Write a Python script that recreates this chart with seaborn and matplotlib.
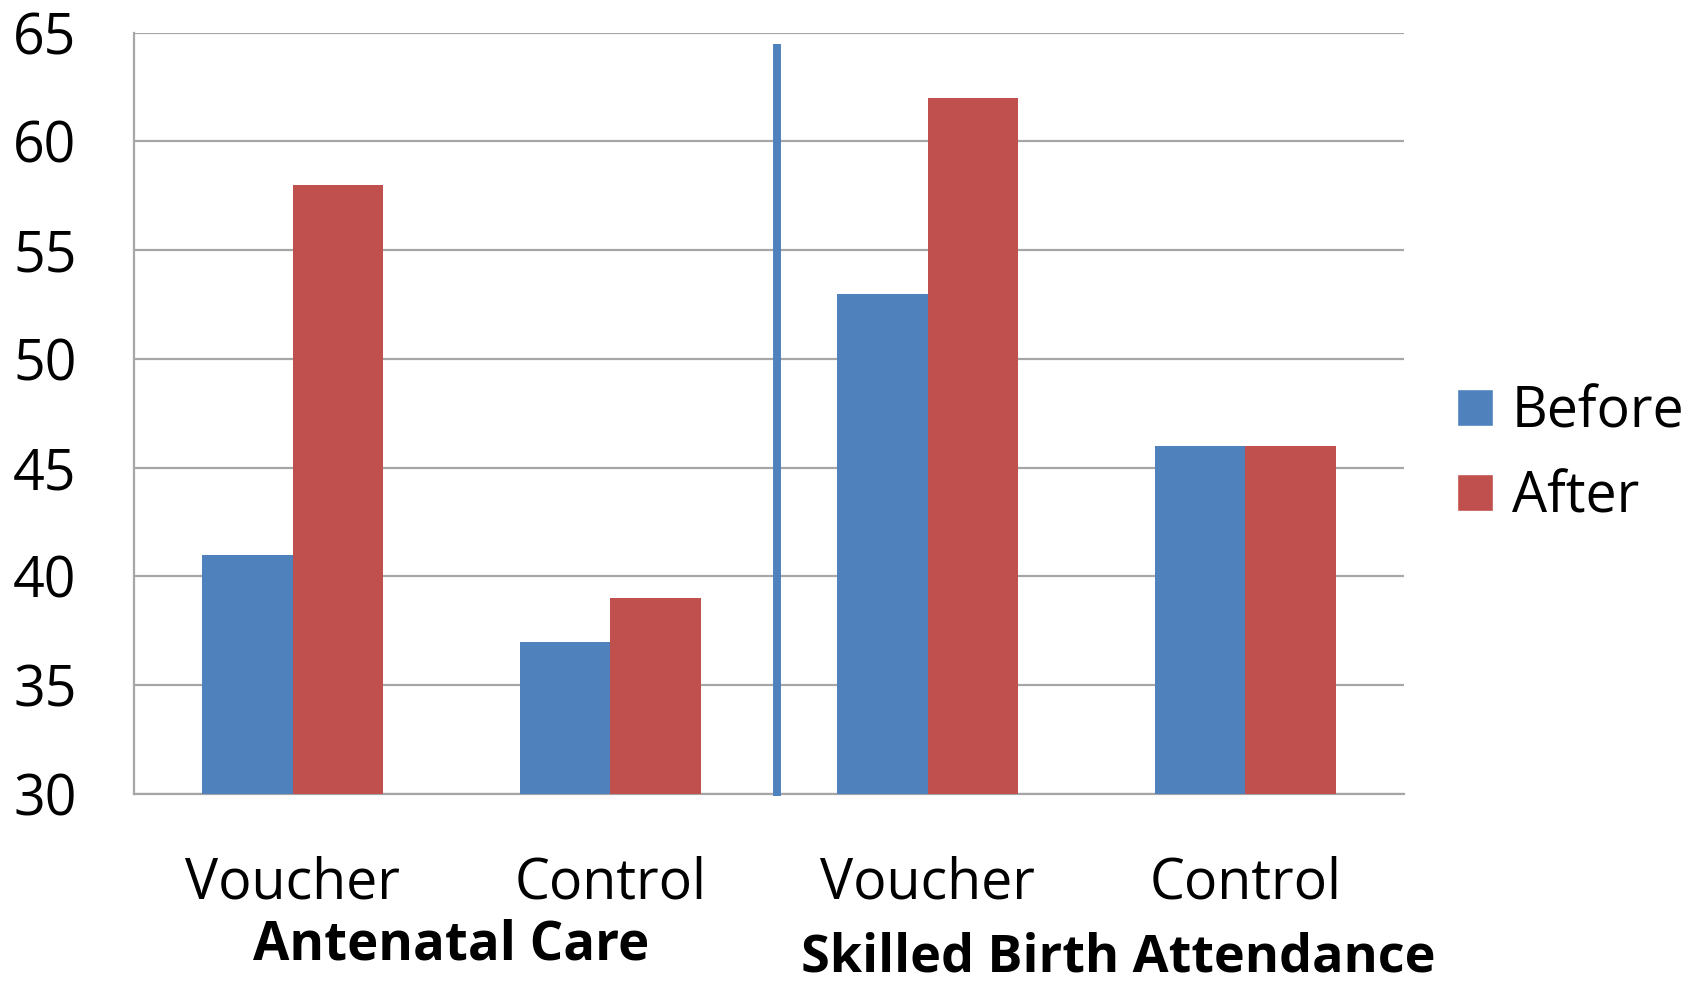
import matplotlib
matplotlib.use("Agg")
import matplotlib.pyplot as plt
import matplotlib.transforms as mtransforms
from matplotlib.patches import Patch
import numpy as np
import pandas as pd
import seaborn as sns

# --- data ---
categories = ["ANC Voucher", "ANC Control", "SBA Voucher", "SBA Control"]
tick_labels = ["Voucher", "Control", "Voucher", "Control"]
group_labels = ["Antenatal Care", "Skilled Birth Attendance"]
before = [41, 37, 53, 46]
after = [58, 39, 62, 46]
series = ["Before", "After"]

df = pd.DataFrame({
    "category": categories * 2,
    "value": before + after,
    "period": ["Before"] * 4 + ["After"] * 4,
})

blue = "#4F81BD"
red = "#C0504D"
grid_col = "#A6A6A6"

sns.set_style("white")
plt.rcParams["font.family"] = ["Open Sans", "DejaVu Sans"]
plt.rcParams["text.color"] = "black"
plt.rcParams["xtick.labelcolor"] = "black"
plt.rcParams["ytick.labelcolor"] = "black"

fig = plt.figure(figsize=(16.98, 9.82), dpi=100)
ax = fig.add_axes([134 / 1698, 1 - 794 / 982, (1404 - 134) / 1698, (794 - 32.5) / 982])

sns.barplot(data=df, x="category", y="value", hue="period", order=categories,
            hue_order=series, palette=[blue, red], width=0.57, saturation=1,
            edgecolor="none", linewidth=0, ax=ax, legend=False, zorder=3)

ax.set_ylim(30, 65)
ax.set_xlim(-0.5, 3.5)
ax.set_yticks(np.arange(30, 66, 5))
ax.yaxis.grid(True, color=grid_col, linewidth=1.6, zorder=0)
ax.set_axisbelow(True)
ax.set_xlabel("")
ax.set_ylabel("")

for side in ["top", "right"]:
    ax.spines[side].set_visible(False)
for side in ["left", "bottom"]:
    ax.spines[side].set_color(grid_col)
    ax.spines[side].set_linewidth(1.6)

ax.set_xticks(range(len(categories)))
ax.set_xticklabels(tick_labels)
ax.set_xticks(np.arange(-0.5, 4, 1), minor=True)
ax.tick_params(axis="x", which="major", length=0, pad=44, labelsize=40, labelcolor="black")
ax.tick_params(axis="x", which="minor", length=13, width=1.6, color=grid_col)
ax.tick_params(axis="y", length=14.4, width=1.6, color=grid_col, pad=27,
               labelsize=40, labelcolor="black")

# vertical separator between the two groups
ax.plot([1.524, 1.524], [29.9, 64.47], color=blue, linewidth=5.7,
        solid_capstyle="butt", clip_on=False, zorder=4)

# group labels under the category labels
trans = mtransforms.blended_transform_factory(ax.transData, fig.transFigure)
fig.text(0.5, 1 - 946 / 982, group_labels[0], transform=trans, ha="center",
         va="center", fontsize=38, fontweight="bold", color="black")
fig.text(2.6, 1 - 958 / 982, group_labels[1], transform=trans, ha="center",
         va="center", fontsize=37.5, fontweight="bold", color="black")

handles = [Patch(facecolor=blue, label=series[0]), Patch(facecolor=red, label=series[1])]
ax.legend(handles=handles, loc="center left", bbox_to_anchor=(1.042, 0.445),
          frameon=False, fontsize=40, handlelength=0.65, handleheight=0.65,
          handletextpad=0.33, labelspacing=0.5, borderaxespad=0, borderpad=0)

fig.savefig("out.png", dpi=100)
